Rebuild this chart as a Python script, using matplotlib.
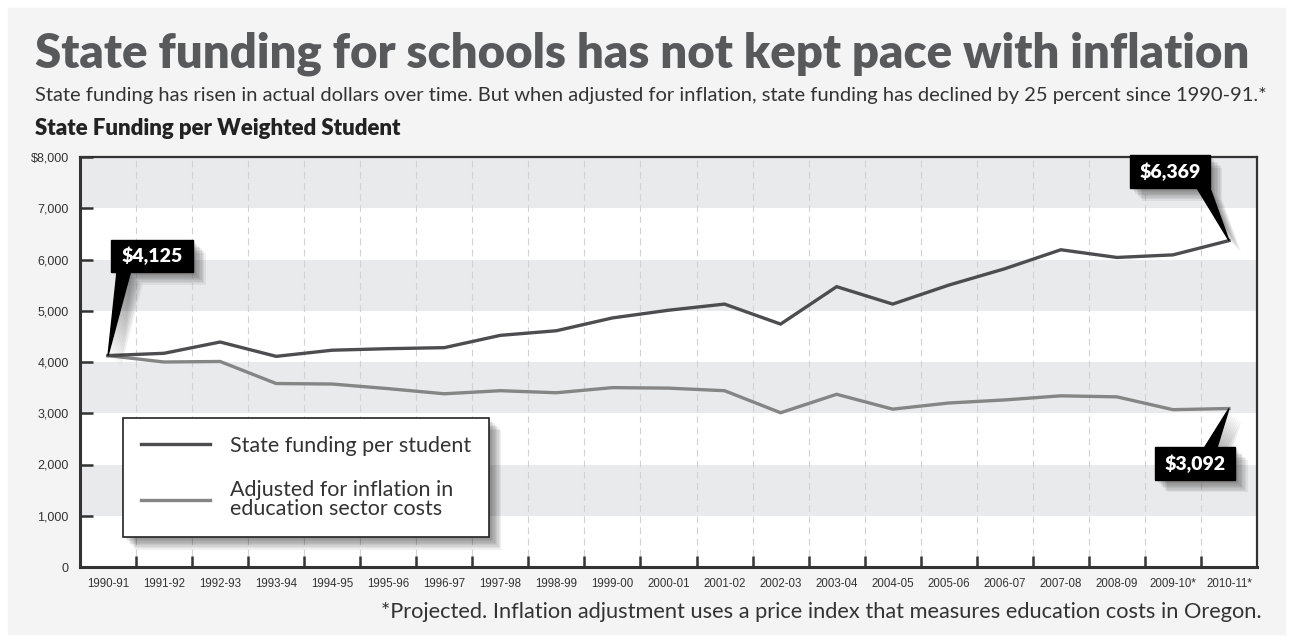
import numpy as np
import matplotlib.pyplot as plt
import matplotlib.patheffects as pe
from matplotlib.patches import Rectangle, Polygon

years = ['1990-91', '1991-92', '1992-93', '1993-94', '1994-95', '1995-96', '1996-97',
         '1997-98', '1998-99', '1999-00', '2000-01', '2001-02', '2002-03', '2003-04',
         '2004-05', '2005-06', '2006-07', '2007-08', '2008-09', '2009-10*', '2010-11*']
funding = [4125, 4170, 4390, 4110, 4230, 4260, 4280, 4520, 4610, 4860, 5010,
           5130, 4740, 5470, 5130, 5500, 5820, 6190, 6040, 6090, 6369]
adjusted = [4125, 4000, 4010, 3580, 3570, 3480, 3380, 3440, 3400, 3500, 3490,
            3440, 3010, 3370, 3080, 3200, 3260, 3340, 3320, 3070, 3092]
y_ticks = [0, 1000, 2000, 3000, 4000, 5000, 6000, 7000, 8000]
y_labels = ['0', '1,000', '2,000', '3,000', '4,000', '5,000', '6,000', '7,000', '$8,000']

MAIN = ['Lato', 'DejaVu Sans']
NARROW = ['Liberation Sans Narrow', 'Liberation Sans', 'DejaVu Sans']
DARK = '#4d4d4f'
LIGHT = '#858585'

W, H = 1293, 642
fig = plt.figure(figsize=(W / 100, H / 100), dpi=100)
fig.patch.set_facecolor('white')
fig.add_artist(Rectangle((8 / W, 8 / H), 1 - 16 / W, 1 - 16 / H,
                         transform=fig.transFigure, color='#f4f4f4', zorder=-5))


def fit_width(t, width_px):
    fig.canvas.draw()
    w = t.get_window_extent().width
    t.set_fontsize(t.get_fontsize() * width_px / w)


title = fig.text(35 / W, 1 - 67 / H, 'State funding for schools has not kept pace with inflation',
                 family=MAIN, weight='heavy', fontsize=30, color='#58595b')
fit_width(title, 1213)
sub = fig.text(35 / W, 1 - 101 / H,
               'State funding has risen in actual dollars over time. But when adjusted for inflation, '
               'state funding has declined by 25 percent since 1990-91.*',
               family=MAIN, fontsize=12, color='#333333')
fit_width(sub, 1227)
head = fig.text(35 / W, 1 - 135 / H, 'State Funding per Weighted Student',
                family=MAIN, weight='heavy', fontsize=14, color='#222222')
fit_width(head, 368)
foot = fig.text(1262 / W, 1 - 618 / H,
                '*Projected. Inflation adjustment uses a price index that measures education costs in Oregon.',
                family=MAIN, fontsize=12, color='#333333', ha='right')
fit_width(foot, 876)

ax = fig.add_axes([80 / W, 75 / H, 1177 / W, 410 / H])
ax.set_facecolor('white')
ax.set_xlim(-0.5, len(years) - 0.5)
ax.set_ylim(0, 8000)

# alternating shaded bands and dashed column dividers
for lo in (1000, 3000, 5000, 7000):
    ax.axhspan(lo, lo + 1000, color='#e9eaec', lw=0, zorder=0)
x = np.arange(len(years))
for b in x[:-1] + 0.5:
    ax.axvline(b, color='#d2d2d2', lw=0.8, ls=(0, (6, 4)), zorder=0.5)

ax.plot(x, funding, color=DARK, lw=2.4, solid_joinstyle='miter', zorder=3,
        label='State funding per student')
ax.plot(x, adjusted, color=LIGHT, lw=2.4, solid_joinstyle='miter', zorder=2,
        label='Adjusted for inflation in\neducation sector costs')

ax.set_yticks(y_ticks)
ax.set_yticklabels(y_labels, family=NARROW, fontsize=9, color='#333333')
ax.tick_params(axis='y', direction='in', length=9, width=1.8, color='#333333', pad=8)
ax.set_xticks(x)
ax.set_xticklabels(years, family=NARROW, fontsize=8.3, color='#333333')
ax.set_xticks(x[:-1] + 0.5, minor=True)
ax.tick_params(axis='x', which='major', length=0, pad=8)
ax.tick_params(axis='x', which='minor', direction='in', length=8, width=1.8, color='#333333')
for side, sp in ax.spines.items():
    sp.set_color('#333333')
    sp.set_linewidth(2.2 if side in ('left', 'bottom') else 1.6)

shadow = [pe.SimplePatchShadow(offset=(d, -d), shadow_rgbFace='black', alpha=0.06)
          for d in range(1, 10)] + [pe.Normal()]

leg = ax.legend(loc='lower left', bbox_to_anchor=(0.0365, 0.073), frameon=True,
                fancybox=False, edgecolor='#222222', facecolor='white', framealpha=1,
                handlelength=3.2, handletextpad=0.9, labelspacing=1.1, borderpad=0.85,
                borderaxespad=0, prop={'family': MAIN, 'size': 15.5})
leg.get_frame().set_linewidth(1.2)
leg.get_frame().set_path_effects(shadow)
for t in leg.get_texts():
    t.set_color('#333333')
    t.set_linespacing(0.95)


def callout(xi, val, text, bx, by, base):
    # black label box (offsets from the point) with a wedge pointing at the value
    x0, x1 = xi + bx[0], xi + bx[1]
    y0, y1 = val + by[0], val + by[1]
    edge = y0 if by[0] > 0 else y1
    wedge = Polygon([(xi + base[0], edge), (xi + base[1], edge), (xi, val)],
                    closed=True, color='black', zorder=6, clip_on=False, path_effects=shadow)
    box = Rectangle((x0, y0), x1 - x0, y1 - y0, color='black', zorder=6,
                    clip_on=False, path_effects=shadow)
    ax.add_patch(wedge)
    ax.add_patch(box)
    ax.text((x0 + x1) / 2, (y0 + y1) / 2, text, color='white', weight='heavy',
            family=MAIN, fontsize=14, ha='center', va='center', zorder=7)


callout(0, funding[0], f'${funding[0]:,}', (0.05, 1.52), (1631, 2255), (0.16, 0.40))
callout(20, funding[-1], f'${funding[-1]:,}', (-1.77, -0.34), (1026, 1670), (-0.57, -0.34))
callout(20, adjusted[-1], f'${adjusted[-1]:,}', (-1.32, 0.11), (-1394, -751), (-0.43, -0.21))

fig.savefig('out.png', dpi=100, facecolor=fig.get_facecolor())
